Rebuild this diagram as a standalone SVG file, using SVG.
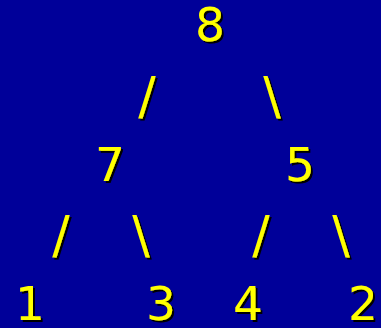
<svg xmlns="http://www.w3.org/2000/svg" width="381" height="328" viewBox="0 0 381 328">
<defs>
<filter id="sh" x="-50%" y="-50%" width="200%" height="200%">
<feDropShadow dx="2" dy="2" stdDeviation="0.4" flood-color="#000000" flood-opacity="1"/>
</filter>
</defs>
<style>
text{font-family:"DejaVu Sans","Verdana",sans-serif;font-size:47px;fill:#FFFF00;text-anchor:middle;filter:url(#sh)}
.c{font-size:52px}
</style>
<rect width="381" height="328" fill="#000099"/>
<g id="connectors">
<text class="c" x="147" y="114">/</text>
<text class="c" x="272" y="114">\</text>
<text class="c" x="61" y="253">/</text>
<text class="c" x="141" y="253">\</text>
<text class="c" x="261" y="253">/</text>
<text class="c" x="341" y="253">\</text>
</g>
<g id="n8"><text x="210" y="41">8</text></g>
<g id="n7"><text x="110" y="181">7</text></g>
<g id="n5"><text x="300" y="181">5</text></g>
<g id="n1"><text x="30" y="320">1</text></g>
<g id="n3"><text x="161" y="320">3</text></g>
<g id="n4"><text x="248" y="320">4</text></g>
<g id="n2"><text x="363" y="320">2</text></g>
</svg>
